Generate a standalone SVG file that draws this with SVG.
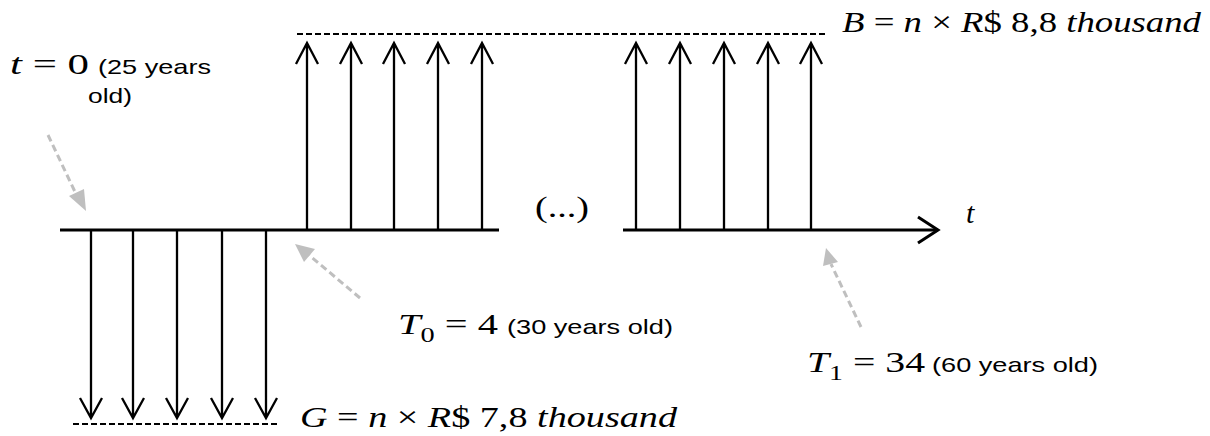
<svg xmlns="http://www.w3.org/2000/svg" width="1210" height="436" viewBox="0 0 1210 436">
<style>
.ax{stroke:#000;stroke-width:3;fill:none}
.ar{stroke:#000;stroke-width:2.3;fill:none}
.dash{stroke:#000;stroke-width:2;stroke-dasharray:6 3;fill:none}
.ga{stroke:#bfbfbf;stroke-width:3;stroke-dasharray:7 4;fill:none}
.gh{fill:#bfbfbf}
.m{font-family:"Liberation Serif","DejaVu Serif",serif;font-size:30px;fill:#000}
.i{font-style:italic}
.s{font-family:"Liberation Sans",Arial,sans-serif;font-size:21px;fill:#000}
</style>
<rect width="1210" height="436" fill="#fff"/>
<g id="connectors">
  <line class="ax" x1="60" y1="230" x2="499" y2="230"/>
  <line class="ax" x1="623" y1="230" x2="938" y2="230"/>
  <polyline class="ax" points="918,217 938,230 918,243"/>
  <line class="dash" x1="297" y1="34" x2="825" y2="34"/>
  <line class="dash" x1="73" y1="424" x2="279" y2="424"/>
  <g id="up-arrows-1">
    <path class="ar" d="M307 229V43M296 64L307 43L318 64"/>
    <path class="ar" d="M351 229V43M340 64L351 43L362 64"/>
    <path class="ar" d="M394 229V43M383 64L394 43L405 64"/>
    <path class="ar" d="M438 229V43M427 64L438 43L449 64"/>
    <path class="ar" d="M482 229V43M471 64L482 43L493 64"/>
  </g>
  <g id="up-arrows-2">
    <path class="ar" d="M636 229V43M625 64L636 43L647 64"/>
    <path class="ar" d="M680 229V43M669 64L680 43L691 64"/>
    <path class="ar" d="M724 229V43M713 64L724 43L735 64"/>
    <path class="ar" d="M768 229V43M757 64L768 43L779 64"/>
    <path class="ar" d="M811 229V43M800 64L811 43L822 64"/>
  </g>
  <g id="down-arrows">
    <path class="ar" d="M91 231V418M80 398L91 418L102 398"/>
    <path class="ar" d="M133 231V418M122 398L133 418L144 398"/>
    <path class="ar" d="M177 231V418M166 398L177 418L188 398"/>
    <path class="ar" d="M222 231V418M211 398L222 418L233 398"/>
    <path class="ar" d="M266 231V418M255 398L266 418L277 398"/>
  </g>
  <g id="pointer-t0">
    <line class="ga" x1="48" y1="135" x2="76" y2="194"/>
    <polygon class="gh" points="86,211 69,196 84,189"/>
  </g>
  <g id="pointer-T0">
    <line class="ga" x1="360" y1="298" x2="309" y2="255"/>
    <polygon class="gh" points="295,244 315,249 304,262"/>
  </g>
  <g id="pointer-T1">
    <line class="ga" x1="861" y1="327" x2="831" y2="264"/>
    <polygon class="gh" points="826,248 838,262 823,266"/>
  </g>
</g>
<g id="label-B"><text class="m" x="842" y="32" textLength="359" lengthAdjust="spacingAndGlyphs"><tspan class="i">B</tspan> = <tspan class="i">n</tspan> × <tspan class="i">R</tspan>$ 8,8 <tspan class="i">thousand</tspan></text></g>
<g id="label-G"><text class="m" x="300" y="427" textLength="377" lengthAdjust="spacingAndGlyphs"><tspan class="i">G</tspan> = <tspan class="i">n</tspan> × <tspan class="i">R</tspan>$ 7,8 <tspan class="i">thousand</tspan></text></g>
<g id="label-t0">
  <text class="m" x="10" y="74" textLength="79" lengthAdjust="spacingAndGlyphs"><tspan class="i">t</tspan> = 0</text>
  <text class="s" x="98" y="74" textLength="113" lengthAdjust="spacingAndGlyphs">(25 years</text>
  <text class="s" x="88" y="103" textLength="44" lengthAdjust="spacingAndGlyphs">old)</text>
</g>
<g id="ellipsis"><text class="m" x="535" y="217" textLength="54" lengthAdjust="spacingAndGlyphs">(...)</text></g>
<g id="label-tt"><text class="m i" x="966" y="223">t</text></g>
<g id="label-T0">
  <text class="m" x="398" y="334" textLength="100" lengthAdjust="spacingAndGlyphs"><tspan class="i">T</tspan><tspan font-size="21" dy="8">0</tspan><tspan dy="-8"> = 4</tspan></text>
  <text class="s" x="507" y="334" textLength="166" lengthAdjust="spacingAndGlyphs">(30 years old)</text>
</g>
<g id="label-T1">
  <text class="m" x="807" y="372" textLength="118" lengthAdjust="spacingAndGlyphs"><tspan class="i">T</tspan><tspan font-size="21" dy="8">1</tspan><tspan dy="-8"> = 34</tspan></text>
  <text class="s" x="932" y="372" textLength="166" lengthAdjust="spacingAndGlyphs">(60 years old)</text>
</g>
</svg>
